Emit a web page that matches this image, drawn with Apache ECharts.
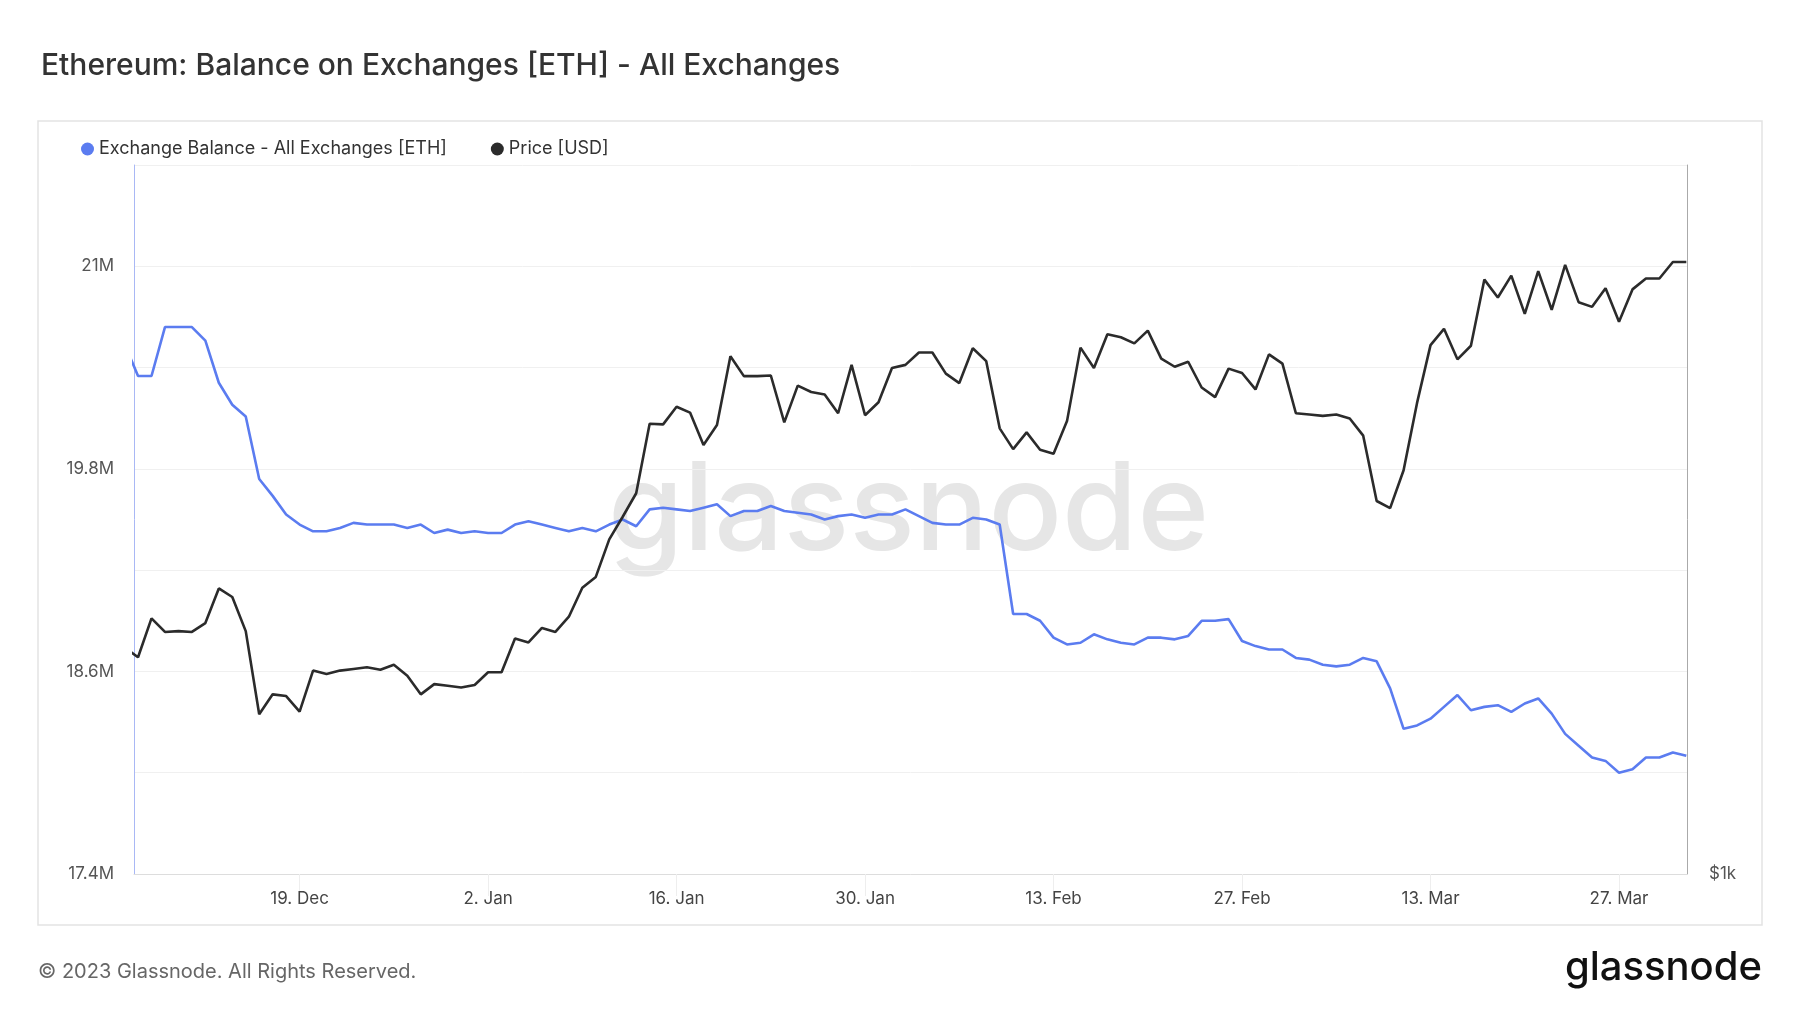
<!DOCTYPE html>
<html>
<head>
<meta charset="utf-8">
<script src="https://cdn.jsdelivr.net/npm/echarts@6/dist/echarts.min.js"></script>
<style>
  html, body, #main { width: 100%; height: 100%; margin: 0; padding: 0; background: #fff; }
</style>
</head>
<body>
<div id="main"></div>
<script>
var startDate = '2022-12-06';

var exchangeBalance = [
  20.54, 20.35, 20.35, 20.64, 20.64, 20.64, 20.56, 20.31, 20.18, 20.11,
  19.74, 19.64, 19.53, 19.47, 19.43, 19.43, 19.45, 19.48, 19.47, 19.47,
  19.47, 19.45, 19.47, 19.42, 19.44, 19.42,
  19.43, 19.42, 19.42, 19.47, 19.49, 19.47, 19.45, 19.43, 19.45, 19.43,
  19.47, 19.50, 19.46, 19.56, 19.57, 19.56, 19.55, 19.57, 19.59, 19.52,
  19.55, 19.55, 19.58, 19.55, 19.54, 19.53, 19.50, 19.52, 19.53, 19.51, 19.53,
  19.53, 19.56, 19.52, 19.48, 19.47, 19.47, 19.51, 19.50, 19.47, 18.94,
  18.94, 18.90, 18.80, 18.76, 18.77, 18.82, 18.79, 18.77, 18.76, 18.80,
  18.80, 18.79, 18.81, 18.90, 18.90, 18.91, 18.78, 18.75,
  18.73, 18.73, 18.68, 18.67, 18.64, 18.63, 18.64, 18.68, 18.66, 18.50,
  18.26, 18.28, 18.32, 18.39, 18.46, 18.37, 18.39, 18.40, 18.36, 18.41,
  18.44, 18.35, 18.23, 18.16, 18.09, 18.07, 18.00, 18.02, 18.09, 18.09, 18.12,
  18.10
];

var priceUsd = [
  1248, 1236, 1284, 1267, 1268, 1267, 1278, 1322, 1311, 1268,
  1169, 1192, 1190, 1172, 1220, 1216, 1220, 1222, 1224, 1221,
  1227, 1214, 1192, 1204, 1202, 1200,
  1203, 1218, 1218, 1259, 1254, 1272, 1267, 1286, 1323, 1337,
  1387, 1418, 1451, 1553, 1552, 1579, 1570, 1521, 1551, 1659,
  1627, 1627, 1628, 1555, 1612, 1602, 1598, 1569, 1645, 1566, 1586,
  1640, 1645, 1665, 1665, 1631, 1616, 1672, 1651, 1546, 1515,
  1540, 1514, 1508, 1557, 1673, 1640, 1695, 1690, 1680, 1701,
  1655, 1642, 1650, 1609, 1594, 1639, 1632, 1606,
  1662, 1647, 1569, 1567, 1565, 1567, 1561, 1535, 1440, 1430,
  1484, 1585, 1677, 1704, 1654, 1676, 1788, 1757, 1795, 1729,
  1803, 1736, 1814, 1749, 1741, 1773, 1716, 1771, 1790, 1790, 1819,
  1819
];

var tickDates = ['2022-12-19', '2023-01-02', '2023-01-16', '2023-01-30',
                 '2023-02-13', '2023-02-27', '2023-03-13', '2023-03-27'];
var months = ['Jan', 'Feb', 'Mar', 'Apr', 'May', 'Jun', 'Jul', 'Aug', 'Sep', 'Oct', 'Nov', 'Dec'];

var DAY = 86400000;
var t0 = Date.parse(startDate + 'T00:00:00Z');
var balanceData = exchangeBalance.map(function (v, i) { return [t0 + i * DAY, v * 1e6]; });
var priceData = priceUsd.map(function (v, i) { return [t0 + i * DAY, v]; });
var tickValues = tickDates.map(function (d) { return Date.parse(d + 'T00:00:00Z'); });

var chart = echarts.init(document.getElementById('main'));
var font = 'Inter, "Noto Sans", sans-serif';

chart.setOption({
  animation: false,
  textStyle: { fontFamily: font },
  title: {
    text: 'Ethereum: Balance on Exchanges [ETH] - All Exchanges',
    left: 36, top: 46,
    textStyle: { fontSize: 30, fontWeight: 500, color: '#333', fontFamily: font }
  },
  legend: {
    left: 76, top: 135,
    itemWidth: 13, itemHeight: 13, itemGap: 44,
    icon: 'circle',
    textStyle: { fontSize: 18, color: '#333', fontFamily: font },
    data: ['Exchange Balance - All Exchanges [ETH]', 'Price [USD]']
  },
  graphic: [
    { type: 'rect', shape: { x: 38, y: 121, width: 1733 - 9, height: 804 },
      style: { fill: 'none', stroke: '#e3e3e3', lineWidth: 1.5 }, z: -10 },
    { type: 'text', left: 608, top: 452, z: -5,
      style: { text: 'glassnode', fontSize: 122, fontWeight: 500, fill: '#e6e6e6', fontFamily: font } },
    { type: 'text', left: 38, top: 962,
      style: { text: '\u00a9 2023 Glassnode. All Rights Reserved.', fontSize: 20, fill: '#666', fontFamily: font } },
    { type: 'text', right: 38, top: 948,
      style: { text: 'glassnode', fontSize: 40, fontWeight: 500, fill: '#111', fontFamily: font } }
  ],
  grid: { left: 134, right: 113, top: 165, bottom: 139 },
  xAxis: {
    type: 'value',
    min: t0 + 0.7 * DAY,
    max: t0 + 116.05 * DAY,
    axisLine: { lineStyle: { color: '#ddd' } },
    axisTick: { show: true, customValues: tickValues, length: 22, lineStyle: { color: '#eee' } },
    splitLine: { show: false },
    axisLabel: {
      customValues: tickValues,
      fontSize: 17, color: '#444', margin: 16,
      formatter: function (v) {
        var d = new Date(v);
        return d.getUTCDate() + '. ' + months[d.getUTCMonth()];
      }
    }
  },
  yAxis: [
    {
      type: 'value',
      min: 17.4e6, max: 21.6e6, interval: 0.6e6,
      axisLine: { show: true, lineStyle: { color: '#a9b8f5' } },
      axisTick: { show: false },
      splitLine: { lineStyle: { color: '#f0f0f0' } },
      axisLabel: {
        fontSize: 17, color: '#555', margin: 20,
        formatter: function (v) {
          var m = Math.round(v / 1e5) / 10;
          if (Math.round((m - 17.4) * 10) % 12 !== 0 || m > 21.1) return '';
          return (m % 1 === 0 ? m.toFixed(0) : m.toFixed(1)) + 'M';
        }
      }
    },
    {
      type: 'log',
      logBase: 10,
      min: 1000, max: 2000,
      position: 'right',
      axisLine: { show: true, lineStyle: { color: '#aaa' } },
      axisTick: { show: false },
      splitLine: { show: false },
      axisLabel: {
        fontSize: 17, color: '#555', margin: 22,
        formatter: function (v) { return Math.abs(v - 1000) < 1 ? '$1k' : ''; }
      }
    }
  ],
  series: [
    {
      name: 'Exchange Balance - All Exchanges [ETH]',
      type: 'line',
      yAxisIndex: 0,
      data: balanceData,
      showSymbol: false,
      color: '#5b7cf0',
      lineStyle: { width: 2.6, color: '#5b7cf0' }
    },
    {
      name: 'Price [USD]',
      type: 'line',
      yAxisIndex: 1,
      data: priceData,
      showSymbol: false,
      color: '#2b2b2b',
      lineStyle: { width: 2.6, color: '#2b2b2b' }
    }
  ]
});
</script>
</body>
</html>
